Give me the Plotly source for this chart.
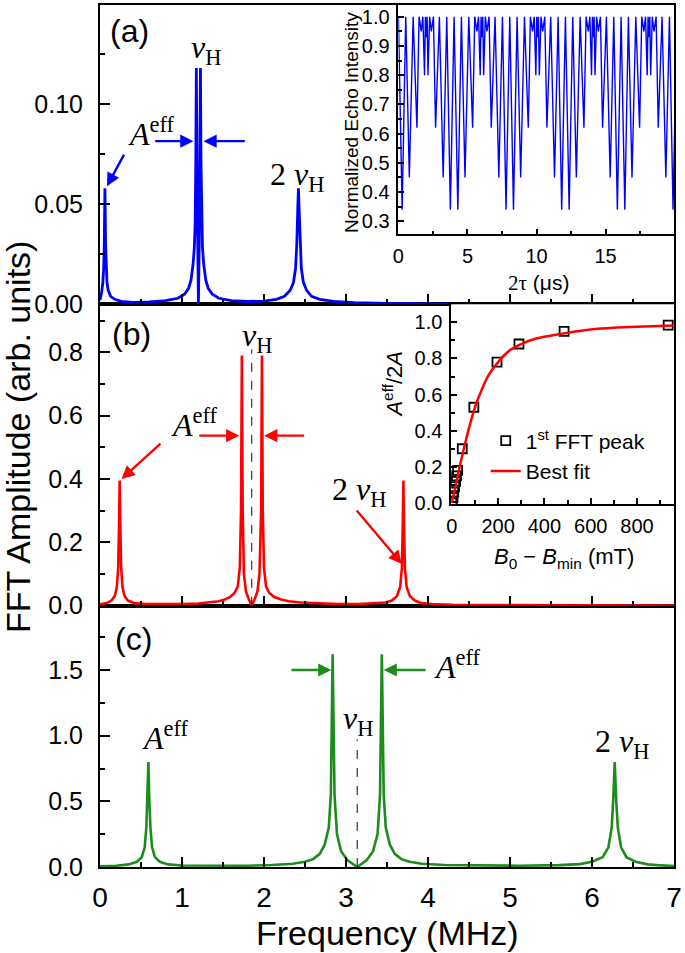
import plotly.graph_objects as go

# ---------------- data ----------------
# panel (a): FFT spectrum (frequency MHz, amplitude)
spec_a = [(0.000, 0.002), (0.020, 0.006), (0.035, 0.011), (0.045, 0.018), (0.052, 0.030),
          (0.057, 0.048), (0.060, 0.058), (0.063, 0.048), (0.068, 0.030), (0.075, 0.018),
          (0.085, 0.011), (0.100, 0.007), (0.130, 0.004), (0.180, 0.0025), (0.260, 0.0015),
          (0.400, 0.0010), (0.600, 0.0012), (0.800, 0.0018), (0.950, 0.0030), (1.030, 0.0050),
          (1.080, 0.0080), (1.110, 0.0120), (1.135, 0.020), (1.150, 0.028), (1.160, 0.040),
          (1.168, 0.070), (1.175, 0.118), (1.182, 0.070), (1.190, 0.030), (1.200, 0.000),
          (1.210, 0.030), (1.218, 0.070), (1.225, 0.118), (1.232, 0.070), (1.240, 0.040),
          (1.250, 0.028), (1.265, 0.020), (1.290, 0.012), (1.320, 0.008), (1.370, 0.005),
          (1.450, 0.003), (1.600, 0.0018), (1.800, 0.0014), (2.000, 0.0016), (2.150, 0.0025),
          (2.250, 0.004), (2.320, 0.007), (2.360, 0.011), (2.385, 0.018), (2.400, 0.030),
          (2.412, 0.048), (2.420, 0.058), (2.428, 0.048), (2.440, 0.030), (2.455, 0.018),
          (2.480, 0.011), (2.520, 0.007), (2.580, 0.004), (2.680, 0.0025), (2.850, 0.0015),
          (3.100, 0.0008), (3.500, 0.0004), (4.500, 0.0001), (7.000, 0.0)]

# panel (b)
spec_b = [(0.000, 0.004), (0.080, 0.008), (0.140, 0.016), (0.180, 0.030), (0.205, 0.058),
          (0.222, 0.120), (0.232, 0.250), (0.240, 0.395), (0.248, 0.250), (0.258, 0.120),
          (0.275, 0.058), (0.300, 0.030), (0.340, 0.016), (0.420, 0.008), (0.550, 0.005),
          (0.750, 0.004), (1.000, 0.005), (1.200, 0.007), (1.350, 0.010), (1.450, 0.014),
          (1.530, 0.020), (1.590, 0.028), (1.640, 0.040), (1.680, 0.060), (1.705, 0.120),
          (1.720, 0.300), (1.730, 0.790), (1.740, 0.300), (1.755, 0.100), (1.780, 0.045),
          (1.815, 0.020), (1.850, 0.000), (1.885, 0.020), (1.920, 0.045), (1.945, 0.100),
          (1.965, 0.300), (1.975, 0.790), (1.985, 0.300), (2.000, 0.120), (2.025, 0.060),
          (2.065, 0.040), (2.120, 0.028), (2.200, 0.020), (2.300, 0.014), (2.450, 0.010),
          (2.650, 0.007), (2.900, 0.005), (3.150, 0.005), (3.350, 0.007), (3.480, 0.010),
          (3.560, 0.016), (3.620, 0.030), (3.660, 0.058), (3.682, 0.120), (3.692, 0.250),
          (3.700, 0.395), (3.708, 0.250), (3.718, 0.120), (3.740, 0.058), (3.780, 0.030),
          (3.840, 0.016), (3.920, 0.008), (4.050, 0.005), (4.300, 0.003), (4.800, 0.002),
          (5.500, 0.001), (7.000, 0.000)]

# panel (c)
spec_c = [(0.000, 0.006), (0.200, 0.010), (0.350, 0.020), (0.450, 0.040), (0.510, 0.075),
          (0.545, 0.150), (0.565, 0.300), (0.578, 0.500), (0.590, 0.800), (0.602, 0.500),
          (0.615, 0.300), (0.635, 0.150), (0.670, 0.075), (0.730, 0.040), (0.830, 0.020),
          (1.000, 0.011), (1.400, 0.008), (1.800, 0.010), (2.100, 0.015), (2.350, 0.025),
          (2.500, 0.040), (2.600, 0.060), (2.680, 0.100), (2.740, 0.170), (2.790, 0.300),
          (2.815, 0.550), (2.837, 1.620), (2.860, 0.550), (2.890, 0.250), (2.940, 0.120),
          (3.020, 0.050), (3.137, 0.000), (3.250, 0.050), (3.330, 0.120), (3.385, 0.250),
          (3.415, 0.550), (3.437, 1.620), (3.460, 0.550), (3.485, 0.300), (3.535, 0.170),
          (3.595, 0.100), (3.675, 0.060), (3.775, 0.040), (3.925, 0.025), (4.200, 0.015),
          (4.600, 0.011), (5.100, 0.010), (5.600, 0.014), (5.850, 0.022), (6.000, 0.040),
          (6.130, 0.075), (6.200, 0.150), (6.240, 0.300), (6.258, 0.500), (6.277, 0.800),
          (6.296, 0.500), (6.315, 0.300), (6.355, 0.150), (6.420, 0.075), (6.530, 0.040),
          (6.680, 0.020), (6.850, 0.012), (7.000, 0.008)]

nuH_b = 1.85     # MHz, dashed marker in (b)
nuH_c = 3.137    # MHz, dashed marker in (c)

# inset (a): echo modulation, dips (2tau in us, normalized intensity at dip)
echo_dip_t = [0.27, 0.79, 1.34, 1.65, 1.89, 2.015, 2.14, 2.38, 2.69, 3.24, 3.76,
              4.30, 4.82, 5.37, 5.68, 5.92, 6.045, 6.17, 6.41, 6.72, 7.27, 7.79,
              8.33, 8.85, 9.40, 9.71, 9.95, 10.075, 10.20, 10.44, 10.75, 11.30, 11.82,
              12.36, 12.88, 13.43, 13.74, 13.98, 14.105, 14.23, 14.47, 14.78, 15.33, 15.85,
              16.39, 16.91, 17.46, 17.77, 18.01, 18.135, 18.26, 18.50, 18.81, 19.36, 19.88]
echo_dip_val = [0.34, 0.45, 0.62, 0.95, 0.80, 0.93, 0.80, 0.95, 0.62, 0.45, 0.34,
                0.34, 0.45, 0.62, 0.95, 0.80, 0.93, 0.80, 0.95, 0.62, 0.45, 0.34,
                0.34, 0.45, 0.62, 0.95, 0.80, 0.93, 0.80, 0.95, 0.62, 0.45, 0.34,
                0.34, 0.45, 0.62, 0.95, 0.80, 0.93, 0.80, 0.95, 0.62, 0.45, 0.34,
                0.34, 0.45, 0.62, 0.95, 0.80, 0.93, 0.80, 0.95, 0.62, 0.45, 0.34]
echo_top = 1.0
echo_t_end = 20.15

# inset (b): A_eff/2A vs B0 - Bmin (mT)
fft_B = [0, 2, 5, 8, 12, 16, 20, 25, 45, 95, 195, 290, 485, 935]
fft_ratio = [0.0, 0.01, 0.03, 0.06, 0.09, 0.12, 0.15, 0.18, 0.30, 0.53, 0.78, 0.88, 0.95, 0.985]
fit_B = [0, 10, 20, 30, 50, 75, 100, 130, 160, 200, 250, 300, 350, 400, 500, 600, 700, 800, 960]
fit_ratio = [0.0, 0.06, 0.12, 0.18, 0.29, 0.42, 0.53, 0.63, 0.71, 0.78, 0.845, 0.88, 0.905,
             0.92, 0.942, 0.96, 0.97, 0.975, 0.982]

# ---------------- build ----------------
BLUE, RED, GREEN = "#0000FF", "#FF0000", "#1C8C1C"
SANS = "Liberation Sans, Arial, sans-serif"
SERIF = "Liberation Serif, Times New Roman, serif"

def unzip(p):
    return [a for a, b in p], [b for a, b in p]

fa, aa = unzip(spec_a)
fb, ab = unzip(spec_b)
fc, ac = unzip(spec_c)

echo_t, echo_v = [0.0], [echo_top]
for i, (t, v) in enumerate(zip(echo_dip_t, echo_dip_val)):
    echo_t.append(t)
    echo_v.append(v)
    if i + 1 < len(echo_dip_t):
        echo_t.append((t + echo_dip_t[i + 1]) / 2)
        echo_v.append(echo_top)
echo_t.append(echo_t_end)
echo_v.append(echo_top)

fig = go.Figure()
fig.add_trace(go.Scatter(x=fc, y=ac, mode="lines", line=dict(color=GREEN, width=2.6),
                         xaxis="x", yaxis="y", showlegend=False))
fig.add_trace(go.Scatter(x=[nuH_c, nuH_c], y=[0, 0.97], mode="lines",
                         line=dict(color="#333333", width=1.2, dash="dash"),
                         xaxis="x", yaxis="y", showlegend=False))
fig.add_trace(go.Scatter(x=fb, y=ab, mode="lines", line=dict(color=RED, width=2.6),
                         xaxis="x2", yaxis="y2", showlegend=False))
fig.add_trace(go.Scatter(x=[nuH_b, nuH_b], y=[0, 0.81], mode="lines",
                         line=dict(color="#333333", width=1.2, dash="dash"),
                         xaxis="x2", yaxis="y2", showlegend=False))
fig.add_trace(go.Scatter(x=fa, y=aa, mode="lines", line=dict(color=BLUE, width=2.8),
                         xaxis="x3", yaxis="y3", showlegend=False))
fig.add_trace(go.Scatter(x=echo_t, y=echo_v, mode="lines", line=dict(color=BLUE, width=1.4),
                         xaxis="x4", yaxis="y4", showlegend=False))
fig.add_trace(go.Scatter(x=fft_B, y=fft_ratio, mode="markers", name="1<sup>st</sup> FFT peak",
                         marker=dict(symbol="square-open", size=9, color="black",
                                     line=dict(width=1.8, color="black")),
                         xaxis="x5", yaxis="y5"))
fig.add_trace(go.Scatter(x=fit_B, y=fit_ratio, mode="lines", name="Best fit",
                         line=dict(color=RED, width=2.5, shape="spline"),
                         xaxis="x5", yaxis="y5"))

def main_x(anchor, labels):
    return dict(domain=[0, 1], anchor=anchor, range=[0, 7], dtick=1, tick0=0,
                showline=True, linecolor="black", linewidth=2, mirror=True,
                ticks="inside", ticklen=10, tickwidth=2, tickcolor="black",
                minor=dict(dtick=0.5, ticks="inside", ticklen=5, tickwidth=2, tickcolor="black"),
                showgrid=False, zeroline=False, showticklabels=labels,
                tickfont=dict(family=SANS, size=28, color="black"), ticklabelstandoff=4)

def main_y(anchor, dom, rng, dt, fmt):
    return dict(domain=dom, anchor=anchor, range=rng, dtick=dt, tick0=0, tickformat=fmt,
                showline=True, linecolor="black", linewidth=2, mirror=True,
                ticks="inside", ticklen=10, tickwidth=2, tickcolor="black",
                minor=dict(dtick=dt / 2, ticks="inside", ticklen=5, tickwidth=2, tickcolor="black"),
                showgrid=False, zeroline=False,
                tickfont=dict(family=SANS, size=25, color="black"), ticklabelstandoff=10)

def inset_ax(anchor, dom, rng, dt, fmt=None):
    d = dict(domain=dom, anchor=anchor, range=rng, dtick=dt, tick0=0,
             showline=True, linecolor="black", linewidth=1.5, mirror=True,
             ticks="inside", ticklen=6, tickwidth=1.5, tickcolor="black",
             minor=dict(dtick=dt / 2, ticks="inside", ticklen=4, tickwidth=1.5, tickcolor="black"),
             showgrid=False, zeroline=False,
             tickfont=dict(family=SANS, size=20, color="black"), ticklabelstandoff=3)
    if fmt:
        d["tickformat"] = fmt
    return d

fig.update_layout(
    width=685, height=953,
    margin=dict(l=100, r=8, t=3, b=86),
    paper_bgcolor="white", plot_bgcolor="white",
    xaxis=main_x("y", True),
    xaxis2=main_x("y2", False),
    xaxis3=main_x("y3", False),
    yaxis=main_y("x", [0, 0.3032], [0, 1.99], 0.5, ".1f"),
    yaxis2=main_y("x2", [0.3032, 0.6528], [0, 0.952], 0.2, ".1f"),
    yaxis3=main_y("x3", [0.6528, 1], [0, 0.1495], 0.05, ".2f"),
    xaxis4=inset_ax("y4", [0.5199, 1], [0, 19.95], 5),
    yaxis4=inset_ax("x4", [0.7338, 1], [0.255, 1.04], 0.1, ".1f"),
    xaxis5=inset_ax("y5", [0.6118, 1], [-3, 960], 200),
    yaxis5=inset_ax("x5", [0.4213, 0.6528], [-0.005, 1.1], 0.2, ".1f"),
    legend=dict(x=0.672, y=0.518, xanchor="left", yanchor="top", bgcolor="rgba(0,0,0,0)",
                font=dict(family=SANS, size=21, color="black"), itemwidth=30, tracegroupgap=0),
)

ann = []

def txt(s, x, y, xr, yr, size, family=SERIF, color="black", angle=0):
    ann.append(dict(text=s, x=x, y=y, xref=xr, yref=yr, showarrow=False,
                    font=dict(size=size, family=family, color=color),
                    xanchor="center", yanchor="middle", textangle=angle))

def arrow(x0, y0, x1, y1, xr, yr, color):
    ann.append(dict(text="", x=x1, y=y1, ax=x0, ay=y0, xref=xr, yref=yr, axref=xr, ayref=yr,
                    showarrow=True, arrowhead=2, arrowsize=1.1, arrowwidth=2.4,
                    arrowcolor=color, standoff=0))

NU = "<i>ν</i><sub>H</sub>"
AEFF = "<i>A</i><sup>eff</sup>"
TWO_NU = "2 <i>ν</i><sub>H</sub>"

# panel (a)
txt("(a)", 0.364, 0.1365, "x3", "y3", 32, SANS)
txt(NU, 1.29, 0.1275, "x3", "y3", 32)
txt(AEFF, 0.625, 0.086, "x3", "y3", 32)
txt(TWO_NU, 2.40, 0.0638, "x3", "y3", 32)
arrow(0.303, 0.0755, 0.085, 0.059, "x3", "y3", BLUE)
arrow(0.655, 0.0815, 1.14, 0.0815, "x3", "y3", BLUE)
arrow(1.784, 0.0815, 1.262, 0.0815, "x3", "y3", BLUE)

# panel (b)
txt("(b)", 0.382, 0.858, "x2", "y2", 32, SANS)
txt(NU, 1.917, 0.848, "x2", "y2", 32)
txt(AEFF, 1.147, 0.578, "x2", "y2", 32)
txt(TWO_NU, 3.155, 0.360, "x2", "y2", 32)
arrow(0.756, 0.516, 0.263, 0.400, "x2", "y2", RED)
arrow(1.193, 0.537, 1.699, 0.537, "x2", "y2", RED)
arrow(2.508, 0.537, 2.002, 0.537, "x2", "y2", RED)
arrow(3.115, 0.3055, 3.681, 0.1318, "x2", "y2", RED)

# panel (c)
txt("(c)", 0.413, 1.735, "x", "y", 32, SANS)
txt(AEFF, 4.36, 1.537, "x", "y", 32)
txt(NU, 3.149, 1.118, "x", "y", 32)
txt(AEFF, 0.80, 0.996, "x", "y", 32)
txt(TWO_NU, 6.36, 0.939, "x", "y", 32)
arrow(2.317, 1.50, 2.822, 1.50, "x", "y", GREEN)
arrow(3.989, 1.50, 3.459, 1.50, "x", "y", GREEN)

# axis titles
txt("FFT Amplitude (arb. units)", -0.143, 0.4988, "paper", "paper", 34, SANS, angle=-90)
txt("Frequency (MHz)", 0.5, -0.0764, "paper", "paper", 34, SANS)
txt("Normalized Echo Intensity", 0.4385, 0.864, "paper", "paper", 19, SANS, angle=-90)
txt('<span style="font-family:Liberation Serif">2τ</span> (μs)', 0.764, 0.678, "paper", "paper", 21, SANS)
txt("<i>A</i><sup>eff</sup>/2<i>A</i>", 0.511, 0.560, "paper", "paper", 22, SANS, angle=-90)
txt("<i>B</i><sub>0</sub> − <i>B</i><sub>min</sub> (mT)", 0.809, 0.359, "paper", "paper", 22, SANS)

fig.update_layout(annotations=ann)
fig.write_html("out.html", config={"displayModeBar": False},
               post_script="document.body.style.margin='0px';")
